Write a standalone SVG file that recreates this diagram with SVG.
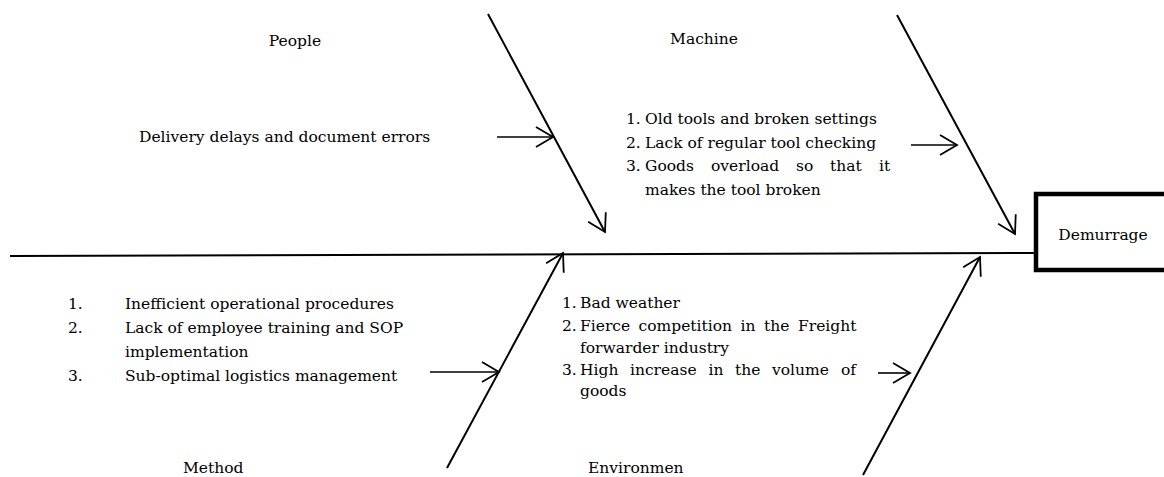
<svg xmlns="http://www.w3.org/2000/svg" width="1164" height="477" viewBox="0 0 1164 477">
  <defs>
    <marker id="arr" markerUnits="userSpaceOnUse" markerWidth="24" markerHeight="24" viewBox="-20 -12 22 24" refX="0" refY="0" orient="auto">
      <path d="M-17,-10 L0,0 L-17,10" fill="none" stroke="#000" stroke-width="1.8" stroke-linejoin="miter"/>
    </marker>
  </defs>
  <style>
    text { font-family: "DejaVu Serif", "Liberation Serif", serif; font-size: 15.5px; fill: #000; }
    .bone { stroke: #000; stroke-width: 2; fill: none; }
    .small { stroke: #000; stroke-width: 1.6; fill: none; }
  </style>
  <rect width="1164" height="477" fill="#fff"/>

  <g id="connectors">
    <line class="bone" x1="10" y1="256" x2="1036" y2="253"/>
    <line class="bone" x1="488" y1="14" x2="605" y2="232" marker-end="url(#arr)"/>
    <line class="bone" x1="897" y1="15" x2="1015" y2="234" marker-end="url(#arr)"/>
    <line class="bone" x1="447" y1="468" x2="563" y2="253" marker-end="url(#arr)"/>
    <line class="bone" x1="863" y1="475" x2="980" y2="257" marker-end="url(#arr)"/>
    <line class="small" x1="497" y1="137" x2="553" y2="137" marker-end="url(#arr)"/>
    <line class="small" x1="911" y1="145" x2="957" y2="145" marker-end="url(#arr)"/>
    <line class="small" x1="430" y1="372" x2="499" y2="372" marker-end="url(#arr)"/>
    <line class="small" x1="878" y1="373" x2="910" y2="373" marker-end="url(#arr)"/>
  </g>

  <g id="effect">
    <rect x="1036" y="194" width="140" height="76" fill="#fff" stroke="#000" stroke-width="4.5"/>
    <text x="1103" y="240" text-anchor="middle">Demurrage</text>
  </g>

  <g id="people">
    <text x="295" y="46" text-anchor="middle">People</text>
    <text x="139" y="142">Delivery delays and document errors</text>
  </g>

  <g id="machine">
    <text x="704" y="44" text-anchor="middle">Machine</text>
    <text x="626" y="124">1.</text><text x="645" y="124">Old tools and broken settings</text>
    <text x="626" y="148">2.</text><text x="645" y="148">Lack of regular tool checking</text>
    <text x="626" y="171">3.</text>
    <text y="171"><tspan x="645">Goods</tspan><tspan x="711">overload</tspan><tspan x="796">so</tspan><tspan x="830">that</tspan><tspan x="879">it</tspan></text>
    <text x="645" y="195">makes the tool broken</text>
  </g>

  <g id="method">
    <text x="68" y="309">1.</text><text x="125" y="309">Inefficient operational procedures</text>
    <text x="68" y="333">2.</text><text x="125" y="333">Lack of employee training and SOP</text>
    <text x="125" y="357">implementation</text>
    <text x="68" y="381">3.</text><text x="125" y="381">Sub-optimal logistics management</text>
    <text x="183" y="473">Method</text>
  </g>

  <g id="environment">
    <text x="562" y="308">1.</text><text x="580" y="308">Bad weather</text>
    <text x="562" y="331">2.</text>
    <text y="331"><tspan x="580">Fierce</tspan><tspan x="638.5">competition</tspan><tspan x="740.5">in</tspan><tspan x="764">the</tspan><tspan x="798">Freight</tspan></text>
    <text x="580" y="353">forwarder industry</text>
    <text x="562" y="375">3.</text>
    <text y="375"><tspan x="580">High</tspan><tspan x="630">increase</tspan><tspan x="708.5">in</tspan><tspan x="735">the</tspan><tspan x="772">volume</tspan><tspan x="841">of</tspan></text>
    <text x="580" y="396">goods</text>
    <text x="588" y="473">Environmen</text>
  </g>
</svg>
